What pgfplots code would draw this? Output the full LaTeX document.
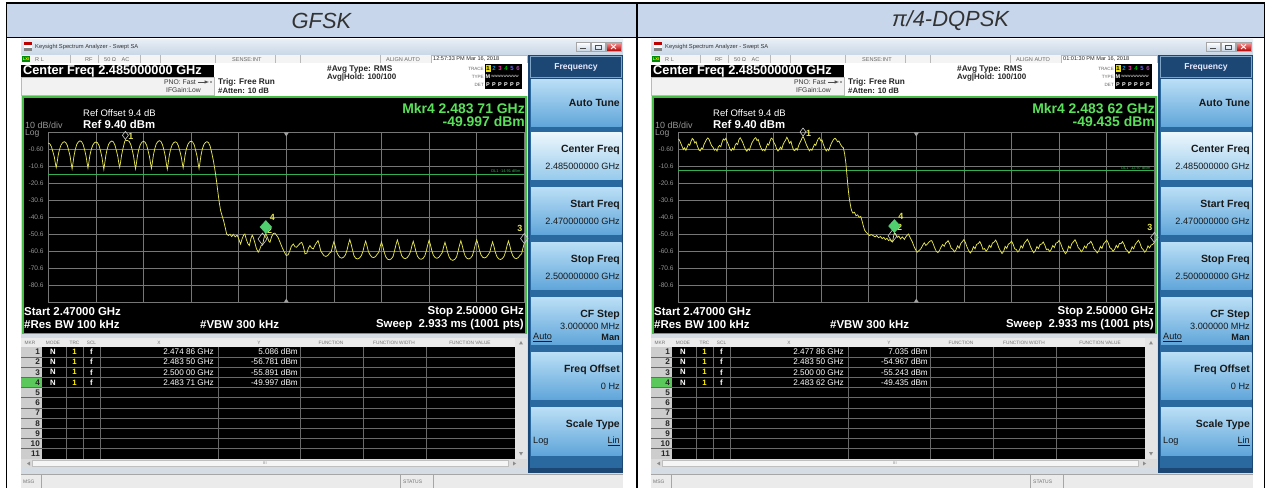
\documentclass[border=0pt]{standalone}
\usepackage{fontspec}
\setmainfont{Liberation Sans}
\usepackage{pgfplots}
\pgfplotsset{compat=1.18}
\usepackage{pgfplotstable}

\definecolor{titlebg}{RGB}{199,214,235}
\definecolor{tracey}{RGB}{228,228,80}
\definecolor{gridg}{RGB}{118,118,118}
\definecolor{dispg}{RGB}{70,190,70}
\definecolor{mkrg}{RGB}{90,225,90}
\definecolor{dlg}{RGB}{50,175,80}
\definecolor{tickg}{RGB}{150,150,150}
\definecolor{sbnavy}{RGB}{28,70,115}
\definecolor{sbband}{RGB}{42,104,160}
\definecolor{btop}{RGB}{185,222,245}
\definecolor{bbot}{RGB}{95,165,218}
\definecolor{btopL}{RGB}{236,246,252}
\definecolor{bbotL}{RGB}{150,202,236}
\definecolor{mkgray}{RGB}{205,205,205}
\definecolor{mkfour}{RGB}{80,205,110}
\definecolor{tbarA}{RGB}{230,237,245}
\definecolor{tbarB}{RGB}{200,214,230}
\definecolor{statbg}{RGB}{244,244,244}
\definecolor{sepg}{RGB}{185,185,185}
\definecolor{panelg}{RGB}{214,220,228}
\definecolor{hdrbg}{RGB}{236,236,236}
\definecolor{mkrcol}{RGB}{205,205,205}
\definecolor{tblline}{RGB}{105,105,105}
\definecolor{hilite}{RGB}{90,200,90}

\newcommand\fs[1]{\fontsize{#1}{#1}\selectfont}

\pgfplotstableread{
f p
2470.00 3.2
2470.10 2.7
2470.20 1.0
2470.30 -2.3
2470.38 -5.0
2470.45 -9.0
2470.50 -11.2
2470.55 -8.6
2470.62 -4.2
2470.70 -0.8
2470.80 2.0
2470.90 3.4
2471.00 4.0
2471.10 3.5
2471.20 1.8
2471.30 -1.6
2471.38 -4.8
2471.45 -9.3
2471.50 -12.0
2471.55 -9.0
2471.62 -4.4
2471.70 -0.6
2471.80 2.5
2471.90 3.9
2472.00 4.5
2472.10 4.0
2472.20 2.2
2472.30 -1.2
2472.38 -4.6
2472.45 -8.8
2472.50 -11.5
2472.55 -8.7
2472.62 -4.1
2472.70 -0.9
2472.80 1.9
2472.90 3.3
2473.00 3.8
2473.10 3.4
2473.20 1.7
2473.30 -1.8
2473.38 -5.1
2473.45 -9.5
2473.50 -12.3
2473.55 -9.2
2473.62 -4.5
2473.70 -0.7
2473.80 2.4
2473.90 3.8
2474.00 4.4
2474.10 3.9
2474.20 2.0
2474.30 -1.5
2474.38 -4.7
2474.45 -8.9
2474.50 -11.0
2474.55 -8.4
2474.62 -3.9
2474.70 -0.3
2474.80 3.6
2474.86 5.086
2474.93 4.6
2475.00 4.7
2475.10 4.1
2475.20 2.3
2475.30 -1.3
2475.38 -4.9
2475.45 -9.4
2475.50 -12.0
2475.55 -9.0
2475.62 -4.3
2475.70 -0.6
2475.80 2.3
2475.90 3.7
2476.00 4.2
2476.10 3.7
2476.20 1.9
2476.30 -1.7
2476.38 -5.0
2476.45 -9.1
2476.50 -11.6
2476.55 -8.8
2476.62 -4.2
2476.70 -0.5
2476.80 2.6
2476.90 4.0
2477.00 4.6
2477.10 4.1
2477.20 2.1
2477.30 -1.4
2477.38 -4.9
2477.45 -9.6
2477.50 -12.2
2477.55 -9.1
2477.62 -4.4
2477.70 -0.8
2477.80 2.0
2477.90 3.4
2478.00 3.9
2478.10 3.5
2478.20 1.6
2478.30 -1.9
2478.38 -5.0
2478.45 -9.0
2478.50 -11.4
2478.55 -8.6
2478.62 -4.0
2478.70 -0.4
2478.80 2.4
2478.90 3.8
2479.00 4.3
2479.10 3.8
2479.20 2.0
2479.30 -1.6
2479.38 -4.8
2479.45 -9.2
2479.50 -11.8
2479.55 -8.9
2479.62 -4.2
2479.70 -0.6
2479.80 2.2
2479.90 3.5
2480.00 4.0
2480.10 3.4
2480.20 1.4
2480.30 -2.5
2480.40 -7.0
2480.50 -12.5
2480.60 -19.0
2480.70 -26.5
2480.78 -32.0
2480.86 -36.5
2480.95 -39.5
2481.05 -42.5
2481.15 -46.5
2481.24 -50.3
2481.35 -51.2
2481.45 -50.4
2481.56 -51.8
2481.66 -50.5
2481.78 -52.0
2481.90 -51.0
2481.97 -52.3
2482.05 -54.5
2482.12 -56.2
2482.22 -53.0
2482.32 -50.8
2482.39 -50.3
2482.48 -53.5
2482.58 -56.0
2482.67 -57.1
2482.77 -53.0
2482.85 -51.0
2482.92 -52.3
2483.02 -55.5
2483.12 -59.0
2483.23 -61.0
2483.32 -59.5
2483.42 -57.0
2483.50 -56.781
2483.60 -52.5
2483.71 -49.997
2483.80 -52.0
2483.90 -54.5
2483.97 -55.2
2484.07 -52.0
2484.18 -50.0
2484.28 -49.8
2484.38 -51.0
2484.48 -52.3
2484.60 -55.0
2484.75 -58.5
2484.88 -61.0
2485.00 -63.0
2485.12 -62.5
2485.23 -60.0
2485.32 -57.5
2485.44 -56.2
2485.55 -57.8
2485.65 -58.1
2485.75 -57.0
2485.87 -55.8
2485.97 -55.2
2486.07 -57.5
2486.18 -62.0
2486.30 -61.5
2486.40 -58.5
2486.49 -57.1
2486.60 -58.6
2486.70 -59.1
2486.80 -57.0
2486.90 -55.5
2487.00 -54.2
2487.08 -56.7
2487.17 -60.2
2487.27 -61.7
2487.38 -63.1
2487.50 -63.5
2487.62 -62.9
2487.73 -61.5
2487.83 -60.8
2487.92 -57.3
2488.00 -54.8
2488.08 -57.3
2488.17 -60.8
2488.27 -62.7
2488.38 -64.1
2488.50 -64.5
2488.62 -63.9
2488.73 -62.5
2488.83 -59.6
2488.92 -56.1
2489.00 -53.6
2489.08 -56.1
2489.17 -59.6
2489.27 -63.2
2489.38 -64.6
2489.50 -65.0
2489.62 -64.4
2489.73 -63.0
2489.83 -60.5
2489.92 -57.0
2490.00 -54.5
2490.08 -57.0
2490.17 -60.5
2490.27 -62.4
2490.38 -63.8
2490.50 -64.2
2490.62 -63.6
2490.73 -62.2
2490.83 -61.0
2490.92 -57.5
2491.00 -55.0
2491.08 -57.5
2491.17 -61.0
2491.27 -63.7
2491.38 -65.1
2491.50 -65.5
2491.62 -64.9
2491.73 -63.5
2491.83 -59.8
2491.92 -56.3
2492.00 -53.8
2492.08 -56.3
2492.17 -59.8
2492.27 -63.0
2492.38 -64.4
2492.50 -64.8
2492.62 -64.2
2492.73 -62.8
2492.83 -60.6
2492.92 -57.1
2493.00 -54.6
2493.08 -57.1
2493.17 -60.6
2493.27 -63.4
2493.38 -64.8
2493.50 -65.2
2493.62 -64.6
2493.73 -63.2
2493.83 -60.0
2493.92 -56.5
2494.00 -54.0
2494.08 -56.5
2494.17 -60.0
2494.27 -62.8
2494.38 -64.2
2494.50 -64.6
2494.62 -64.0
2494.73 -62.6
2494.83 -61.2
2494.92 -57.7
2495.00 -55.2
2495.08 -57.7
2495.17 -61.2
2495.27 -64.0
2495.38 -65.4
2495.50 -65.8
2495.62 -65.2
2495.73 -63.8
2495.83 -60.3
2495.92 -56.8
2496.00 -54.3
2496.08 -56.8
2496.17 -60.3
2496.27 -63.2
2496.38 -64.6
2496.50 -65.0
2496.62 -64.4
2496.73 -63.0
2496.83 -59.7
2496.92 -56.2
2497.00 -53.7
2497.08 -56.2
2497.17 -59.7
2497.27 -62.6
2497.38 -64.0
2497.50 -64.4
2497.62 -63.8
2497.73 -62.4
2497.83 -60.9
2497.92 -57.4
2498.00 -54.9
2498.08 -57.4
2498.17 -60.9
2498.27 -63.5
2498.38 -64.9
2498.50 -65.3
2498.62 -64.7
2498.73 -63.3
2498.83 -60.4
2498.92 -56.9
2499.00 -54.4
2499.08 -56.9
2499.17 -60.4
2499.27 -63.0
2499.38 -64.4
2499.50 -64.8
2499.62 -64.2
2499.73 -62.8
2499.83 -61.9
2499.92 -58.4
2500.00 -55.891
}\gfskdata

\pgfplotstableread{
f p
2470.00 5.6
2470.08 4.8
2470.16 3.0
2470.24 1.2
2470.32 -0.6
2470.40 0.4
2470.48 -1.1
2470.56 0.8
2470.64 2.6
2470.72 1.9
2470.80 4.2
2470.88 5.9
2470.96 5.1
2471.04 3.2
2471.12 4.0
2471.20 1.5
2471.30 -0.9
2471.38 -1.4
2471.46 0.3
2471.54 -0.2
2471.62 2.4
2471.70 3.9
2471.78 5.4
2471.86 6.2
2471.94 5.3
2472.02 3.4
2472.10 1.6
2472.20 0.5
2472.28 -1.0
2472.36 -0.3
2472.44 -1.5
2472.52 0.9
2472.60 1.8
2472.68 1.1
2472.76 3.8
2472.84 5.6
2472.92 4.9
2473.00 6.0
2473.08 3.9
2473.16 2.2
2473.26 -0.4
2473.34 -1.3
2473.42 0.1
2473.50 -0.8
2473.58 1.9
2473.66 3.1
2473.74 2.4
2473.82 5.2
2473.90 6.3
2473.98 5.0
2474.06 3.5
2474.16 1.0
2474.24 -0.7
2474.32 -1.6
2474.40 -0.2
2474.48 -1.0
2474.56 1.3
2474.64 3.3
2474.72 4.6
2474.80 5.8
2474.88 6.4
2474.96 4.7
2475.04 5.3
2475.12 2.6
2475.22 0.2
2475.30 -1.2
2475.38 -0.5
2475.46 -1.4
2475.54 0.6
2475.62 2.7
2475.70 2.0
2475.78 4.4
2475.86 6.1
2475.94 5.5
2476.02 3.6
2476.12 1.9
2476.20 -0.3
2476.28 -1.5
2476.36 -0.6
2476.44 0.8
2476.52 -0.4
2476.60 2.2
2476.68 3.8
2476.76 4.9
2476.84 6.6
2476.92 5.2
2477.00 3.1
2477.10 4.2
2477.18 1.3
2477.26 -0.8
2477.34 -1.3
2477.42 0.0
2477.50 -0.9
2477.58 1.6
2477.66 3.4
2477.74 4.8
2477.80 6.2
2477.86 7.035
2477.92 5.9
2478.00 4.1
2478.08 2.0
2478.18 0.1
2478.26 -1.4
2478.34 -0.4
2478.42 -1.1
2478.50 0.7
2478.58 2.5
2478.66 1.8
2478.74 4.0
2478.82 5.7
2478.90 6.3
2478.98 4.5
2479.06 5.0
2479.14 2.4
2479.24 0.0
2479.32 -1.5
2479.40 -0.3
2479.48 -1.2
2479.56 0.9
2479.64 2.9
2479.72 4.3
2479.80 5.5
2479.88 6.0
2479.96 5.2
2480.04 3.9
2480.12 4.4
2480.20 2.8
2480.30 1.2
2480.40 0.4
2480.48 -3.0
2480.56 -8.5
2480.64 -17.0
2480.71 -24.1
2480.77 -29.0
2480.82 -31.8
2480.88 -35.0
2480.93 -36.7
2481.00 -38.0
2481.10 -37.5
2481.20 -39.6
2481.30 -39.0
2481.40 -40.5
2481.50 -40.0
2481.58 -42.6
2481.66 -45.5
2481.74 -48.0
2481.84 -49.3
2481.95 -50.3
2482.05 -51.3
2482.15 -50.6
2482.29 -51.3
2482.40 -52.0
2482.50 -51.2
2482.62 -52.5
2482.74 -51.8
2482.85 -53.0
2482.95 -52.3
2483.05 -53.6
2483.15 -52.8
2483.25 -54.2
2483.35 -53.5
2483.42 -54.6
2483.50 -54.967
2483.56 -52.0
2483.62 -49.435
2483.70 -50.8
2483.80 -52.3
2483.90 -51.5
2484.00 -53.2
2484.12 -52.0
2484.25 -53.5
2484.35 -51.8
2484.50 -50.3
2484.62 -52.5
2484.75 -55.0
2484.85 -57.5
2484.95 -59.5
2485.05 -61.0
2485.15 -60.2
2485.28 -59.1
2485.40 -57.0
2485.50 -55.5
2485.60 -57.0
2485.70 -56.2
2485.80 -55.0
2485.90 -54.3
2485.97 -54.2
2486.06 -56.0
2486.16 -58.5
2486.26 -60.5
2486.36 -61.2
2486.46 -60.0
2486.56 -58.0
2486.66 -56.5
2486.76 -57.5
2486.86 -55.5
2486.96 -54.8
2487.00 -54.2
2487.10 -56.0
2487.20 -58.7
2487.30 -59.3
2487.40 -60.8
2487.50 -59.6
2487.60 -57.3
2487.70 -58.6
2487.80 -55.9
2487.90 -54.8
2488.00 -53.6
2488.10 -55.4
2488.20 -58.1
2488.30 -60.0
2488.40 -61.5
2488.50 -60.3
2488.60 -57.8
2488.70 -59.0
2488.80 -56.4
2488.90 -56.0
2489.00 -54.8
2489.10 -56.6
2489.20 -59.3
2489.30 -58.9
2489.40 -60.4
2489.50 -59.2
2489.60 -57.0
2489.70 -58.2
2489.80 -55.6
2489.90 -55.1
2490.00 -53.9
2490.10 -55.7
2490.20 -58.4
2490.30 -60.3
2490.40 -61.8
2490.50 -60.6
2490.60 -57.6
2490.70 -58.8
2490.80 -56.3
2490.90 -55.7
2491.00 -54.5
2491.10 -56.3
2491.20 -59.0
2491.30 -59.4
2491.40 -60.9
2491.50 -59.7
2491.60 -57.2
2491.70 -58.5
2491.80 -55.8
2491.90 -54.6
2492.00 -53.4
2492.10 -55.2
2492.20 -57.9
2492.30 -59.8
2492.40 -61.3
2492.50 -60.1
2492.60 -57.7
2492.70 -58.9
2492.80 -56.5
2492.90 -56.2
2493.00 -55.0
2493.10 -56.8
2493.20 -59.5
2493.30 -59.1
2493.40 -60.6
2493.50 -59.4
2493.60 -57.1
2493.70 -58.3
2493.80 -55.7
2493.90 -55.3
2494.00 -54.1
2494.10 -55.9
2494.20 -58.6
2494.30 -60.4
2494.40 -61.9
2494.50 -60.7
2494.60 -57.5
2494.70 -58.7
2494.80 -56.0
2494.90 -54.9
2495.00 -53.7
2495.10 -55.5
2495.20 -58.2
2495.30 -59.2
2495.40 -60.7
2495.50 -59.5
2495.60 -57.4
2495.70 -58.6
2495.80 -56.2
2495.90 -55.8
2496.00 -54.6
2496.10 -56.4
2496.20 -59.1
2496.30 -59.9
2496.40 -61.4
2496.50 -60.2
2496.60 -57.6
2496.70 -58.8
2496.80 -56.1
2496.90 -55.1
2497.00 -53.9
2497.10 -55.7
2497.20 -58.4
2497.30 -59.0
2497.40 -60.5
2497.50 -59.3
2497.60 -57.0
2497.70 -58.4
2497.80 -55.9
2497.90 -56.0
2498.00 -54.8
2498.10 -56.6
2498.20 -59.3
2498.30 -60.1
2498.40 -61.6
2498.50 -60.4
2498.60 -57.8
2498.70 -59.0
2498.80 -56.4
2498.90 -55.2
2499.00 -54.0
2499.10 -55.8
2499.20 -58.5
2499.30 -59.5
2499.40 -61.0
2499.50 -59.8
2499.60 -57.3
2499.70 -58.5
2499.80 -56.8
2499.90 -56.4
2500.00 -55.243
}\dqpskdata

\newcommand\btitle[2]{\node[anchor=east,inner sep=0,font=\fs{10.5}\bfseries,text=black!90] at (620,#1) {#2};}
\newcommand\bval[2]{\node[anchor=east,inner sep=0,font=\fs{9.2},text=black!90] at (620,#1) {#2};}

\newcommand\drawpanel[1]{%
\begin{scope}[xshift=\ox bp]
 % window frame + title bar
 \fill[panelg] (21,40) rectangle (623,488);
 \shade[top color=tbarA,bottom color=tbarB] (21,40) rectangle (623,55);
 \fill[red!75!black] (24,42) rectangle (32,45);
 \fill[white] (24,45) rectangle (32,48);
 \fill[gray] (24,48) rectangle (32,51.5);
 \node[anchor=west,inner sep=0,font=\fs{5.8},text=black!80] at (35,47.5) {Keysight Spectrum Analyzer - Swept SA};
 \shade[top color=white,bottom color=tbarB,draw=gray!70] (576,42.5) rectangle (590,51);
 \shade[top color=white,bottom color=tbarB,draw=gray!70] (591,42.5) rectangle (605,51);
 \shade[top color=red!40,bottom color=red!70!black,draw=gray!70] (606,42.5) rectangle (621,51);
 \draw[gray!60!black,line width=0.8bp] (580,48.5)--(586,48.5);
 \draw[gray!60!black,line width=0.5bp] (595,45) rectangle (601,49);
 \draw[white,line width=0.9bp] (611,44.5)--(616,49) (611,49)--(616,44.5);
 % status row
 \fill[statbg] (21,55) rectangle (528,63.5);
 \foreach \sx in {70,98,140,160,215,275,300,380}{\draw[sepg,line width=0.5bp] (\sx,55.5)--(\sx,63);}
 \fill[green!55!black] (22,56) rectangle (30,62.5);
 \node[font=\fs{4}\bfseries,text=yellow,inner sep=0] at (26,59.3) {LXI};
 \node[anchor=west,inner sep=0,font=\fs{5.6},text=black!60] at (35,59.3) {R L};
 \node[anchor=west,inner sep=0,font=\fs{5.6},text=black!60] at (85,59.3) {RF};
 \node[anchor=west,inner sep=0,font=\fs{5.6},text=black!60] at (104,59.3) {50 Ω\quad AC};
 \node[anchor=west,inner sep=0,font=\fs{5.6},text=black!60] at (232,59.3) {SENSE:INT};
 \node[anchor=west,inner sep=0,font=\fs{5.6},text=black!60] at (386,59.3) {ALIGN AUTO};
 \fill[white,draw=sepg,line width=0.5bp] (431,55.5) rectangle (527,63);
 \node[anchor=west,inner sep=0,font=\fs{5.6},text=black!85] at (433,59.3) {\tstamp};
 % settings area
 \fill[white] (21,63.5) rectangle (528,96);
 \fill[black] (21,65) rectangle (214,77.5);
 \node[anchor=west,inner sep=0,font=\fs{12.8}\bfseries,text=white] at (23,71.5) {Center Freq 2.485000000 GHz};
 \fill[black!5,draw=sepg,line width=0.5bp] (21,77.5) rectangle (214,95.5);
 \node[anchor=west,inner sep=0,font=\fs{6.8},text=black!80] at (164,82) {PNO: Fast};
 \draw[black!70,line width=0.5bp,-latex] (198,82)--(209,82);
 \fill[black!70] (211,82) circle (0.9);
 \node[anchor=west,inner sep=0,font=\fs{6.8},text=black!80] at (166,89.8) {IFGain:Low};
 \node[anchor=west,inner sep=0,font=\fs{8.3}\bfseries,text=black!85] at (218,82.5) {Trig: Free Run};
 \node[anchor=west,inner sep=0,font=\fs{7.8}\bfseries,text=black!85] at (218,90.5) {\#Atten: 10 dB};
 \node[anchor=west,inner sep=0,font=\fs{8.3}\bfseries,text=black!85] at (327,69.5) {\#Avg Type: RMS};
 \node[anchor=west,inner sep=0,font=\fs{8}\bfseries,text=black!85] at (327,78) {Avg|Hold: 100/100};
 \node[anchor=east,inner sep=0,font=\fs{4.6},text=black!60] at (484,68.5) {TRACE};
 \node[anchor=east,inner sep=0,font=\fs{4.6},text=black!60] at (484,76.5) {TYPE};
 \node[anchor=east,inner sep=0,font=\fs{4.6},text=black!60] at (484,85) {DET};
 \fill[black] (485,64.5) rectangle (521.5,89);
 \fill[yellow!90!black] (485.5,65) rectangle (490.5,72.5);
 \node[font=\fs{6}\bfseries,text=black,inner sep=0] at (488,68.8) {1};
 \node[font=\fs{6}\bfseries,text=cyan!80!blue,inner sep=0] at (494,68.8) {2};
 \node[font=\fs{6}\bfseries,text=magenta!80,inner sep=0] at (500,68.8) {3};
 \node[font=\fs{6}\bfseries,text=green!70!black,inner sep=0] at (506,68.8) {4};
 \node[font=\fs{6}\bfseries,text=blue!60!white,inner sep=0] at (512,68.8) {5};
 \node[font=\fs{6}\bfseries,text=violet!70!white,inner sep=0] at (518,68.8) {6};
 \node[font=\fs{5.5}\bfseries,text=white,inner sep=0] at (488,76.8) {M};
 \node[font=\fs{3.2},text=white!70,inner sep=0] at (505,76.8) {WWWWWWWWW};
 \foreach \px in {488,494,500,506,512,518}{\node[font=\fs{5.5}\bfseries,text=white,inner sep=0] at (\px,85) {P};}
 % sidebar
 \fill[sbnavy] (528,55) rectangle (623,473);
 \fill[sbband] (530,79) rectangle (622,468);
 \draw[sbband!60!white,line width=0.6bp] (530.5,56.5) rectangle (621.5,77.5);
 \node[font=\fs{8.6}\bfseries,text=blue!8!white,inner sep=0] at (576,67) {Frequency};
 \foreach \bt in {80,188,243,298,353,408}{\shade[top color=btop,bottom color=bbot] (531,\bt) rectangle (621.5,{\bt+47});}
 \shade[top color=btopL,bottom color=bbotL] (531,133) rectangle (621.5,180);
 \btitle{103}{Auto Tune}
 \btitle{150}{Center Freq}
 \bval{166.5}{2.485000000 GHz}
 \btitle{205}{Start Freq}
 \bval{221.5}{2.470000000 GHz}
 \btitle{260}{Stop Freq}
 \bval{276.5}{2.500000000 GHz}
 \btitle{315}{CF Step}
 \bval{326.5}{3.000000 MHz}
 \node[anchor=west,inner sep=0,font=\fs{9.2},text=black!90] at (533,337.5) {\underline{Auto}};
 \node[anchor=east,inner sep=0,font=\fs{9.2}\bfseries,text=black!90] at (620,337.5) {Man};
 \btitle{370}{Freq Offset}
 \bval{386.5}{0 Hz}
 \btitle{425}{Scale Type}
 \node[anchor=west,inner sep=0,font=\fs{9.2},text=black!90] at (533,441.5) {Log};
 \node[anchor=east,inner sep=0,font=\fs{9.2},text=black!90] at (620,441.5) {\underline{Lin}};
 % display
 \fill[black] (22.7,97) rectangle (526,333.5);
 \draw[dispg,line width=1.6bp] (22.7,97) rectangle (526,333.5);
 \node[anchor=west,inner sep=0,font=\fs{9.5},text=white] at (83,113.5) {Ref Offset 9.4 dB};
 \node[anchor=west,inner sep=0,font=\fs{9},text=tickg] at (25,124.8) {10 dB/div};
 \node[anchor=west,inner sep=0,font=\fs{11.4}\bfseries,text=white] at (83,124.5) {Ref 9.40 dBm};
 \node[anchor=west,inner sep=0,font=\fs{8.6},text=tickg] at (25,133.5) {Log};
 \node[anchor=east,inner sep=0,font=\fs{14}\bfseries,text=mkrg] at (525,108.5) {Mkr4 \mkrf};
 \node[anchor=east,inner sep=0,font=\fs{14}\bfseries,text=mkrg] at (525,121.5) {\mkrv};
 \node[anchor=west,inner sep=0,font=\fs{11.5}\bfseries,text=white] at (24,312) {Start 2.47000 GHz};
 \node[anchor=east,inner sep=0,font=\fs{11.5}\bfseries,text=white] at (524,312) {Stop 2.50000 GHz};
 \node[anchor=west,inner sep=0,font=\fs{11.5}\bfseries,text=white] at (24,324.3) {\#Res BW 100 kHz};
 \node[anchor=west,inner sep=0,font=\fs{11.5}\bfseries,text=white] at (200,324.3) {\#VBW 300 kHz};
 \node[anchor=east,inner sep=0,font=\fs{11.5}\bfseries,text=white] at (524,324.3) {Sweep\ \ 2.933 ms (1001 pts)};
 % marker table
 \fill[panelg] (21,334.5) rectangle (528,473);
 \fill[hdrbg] (21,338) rectangle (515,346.6);
 \foreach \hx/\hlab in {30/MKR,53/MODE,74.5/TRC,91.5/SCL,159/X,259/Y,331/FUNCTION,394/FUNCTION WIDTH,470/FUNCTION VALUE}{\node[font=\fs{4.8},text=black!55,inner sep=0] at (\hx,342.5) {\hlab};}
 \fill[black] (42,346.6) rectangle (515,458.8);
 \fill[mkrcol] (21,346.6) rectangle (42,458.8);
 \fill[hilite] (21,377.2) rectangle (42,387.4);
 \foreach \rr in {1,...,10}{\draw[tblline,line width=0.5bp] (21,{346.6+10.2*\rr}) -- (515,{346.6+10.2*\rr});}
 \foreach \cx in {66,83,100,218,300,363,426}{\draw[tblline,line width=0.5bp] (\cx,346.6)--(\cx,458.8);}
 \foreach \rr in {1,...,11}{\node[anchor=east,inner sep=0,font=\fs{8.2}\bfseries,text=black!85] at (40,{351.8+10.2*(\rr-1)}) {\rr};}
 \foreach \rr in {1,...,4}{%
   \node[font=\fs{7.8}\bfseries,text=white,inner sep=0] at (53,{351.8+10.2*(\rr-1)}) {N};
   \node[font=\fs{7.8}\bfseries,text=yellow,inner sep=0] at (74.5,{351.8+10.2*(\rr-1)}) {1};
   \node[font=\fs{7.8}\bfseries,text=white,inner sep=0] at (91.5,{351.8+10.2*(\rr-1)}) {f};}
 \node[anchor=east,inner sep=0,font=\fs{8.2},text=white] at (214,351.8) {\tXa};
 \node[anchor=east,inner sep=0,font=\fs{8.2},text=white] at (214,362) {\tXb};
 \node[anchor=east,inner sep=0,font=\fs{8.2},text=white] at (214,372.2) {\tXc};
 \node[anchor=east,inner sep=0,font=\fs{8.2},text=white] at (214,382.4) {\tXd};
 \node[anchor=east,inner sep=0,font=\fs{8.2},text=white] at (298,351.8) {\tYa};
 \node[anchor=east,inner sep=0,font=\fs{8.2},text=white] at (298,362) {\tYb};
 \node[anchor=east,inner sep=0,font=\fs{8.2},text=white] at (298,372.2) {\tYc};
 \node[anchor=east,inner sep=0,font=\fs{8.2},text=white] at (298,382.4) {\tYd};
 \fill[black!10] (515,338) rectangle (527,458.8);
 \fill[black!45] (519,344.5) -- (523,344.5) -- (521,341) -- cycle;
 \fill[black!45] (519,452) -- (523,452) -- (521,455.5) -- cycle;
 \fill[black!14] (21,459) rectangle (527,468);
 \fill[black!4,draw=black!25,line width=0.4bp] (32,460.5) rectangle (508,466.5);
 \node[font=\fs{4},text=black!50,inner sep=0] at (265,463.5) {III};
 \fill[black!45] (27,463.5) -- (30,461.5) -- (30,465.5) -- cycle;
 \fill[black!45] (516,463.5) -- (513,461.5) -- (513,465.5) -- cycle;
 % msg bar
 \fill[black!8] (21,474) rectangle (623,488);
 \draw[black!35,line width=0.5bp] (21,474)--(623,474) (41,474)--(41,488) (400,474)--(400,488) (433,474)--(433,488);
 \node[anchor=west,inner sep=0,font=\fs{5},text=black!55] at (23,481.5) {MSG};
 \node[anchor=west,inner sep=0,font=\fs{5},text=black!55] at (403,481.5) {STATUS};
\end{scope}
\begin{axis}[at={(\ox bp+48.3bp,-132.5bp)},anchor=north west,
  scale only axis,width=476bp,height=170bp,
  xmin=2470,xmax=2500,ymin=-90.6,ymax=9.4,
  xtick={2470,2473,...,2500},xticklabels={},
  ytick={-90.6,-80.6,-70.6,-60.6,-50.6,-40.6,-30.6,-20.6,-10.6,-0.6,9.4},
  yticklabels={,-80.6,-70.6,-60.6,-50.6,-40.6,-30.6,-20.6,-10.6,-0.60,},
  grid=major,grid style={draw=gridg,line width=0.5bp},
  axis line style={draw=gridg,line width=0.6bp},
  major tick length=0pt,
  yticklabel style={font=\fs{6.6},text=tickg,inner sep=0pt,xshift=-4.5bp},
  clip=false]
 \addplot[dlg,line width=0.6bp] coordinates {(2470,\dlval) (2500,\dlval)};
 \node[anchor=south east,font=\fs{4},text=dlg,inner sep=0.6bp] at (axis cs:2499.8,\dlval) {\dltext};
 \fill[gridg!70!white] (axis cs:2485,9.4) ++(-2.5bp,0bp) -- ++(5bp,0bp) -- ++(-2.5bp,-4bp) -- cycle;
 \fill[gridg!70!white] (axis cs:2485,-90.6) ++(-2.5bp,0bp) -- ++(5bp,0bp) -- ++(-2.5bp,4bp) -- cycle;
 \addplot[tracey,line width=0.75bp] table[x=f,y=p] {#1};
 \addplot[only marks,mark=diamond,mark size=4bp,mark options={draw=mkgray,fill=none,line width=0.6bp,yshift=4.5bp}] coordinates {(\mAx,\mAy)};
 \addplot[only marks,mark=diamond,mark size=6bp,mark options={draw=mkgray,fill=none,line width=0.6bp,yshift=6bp}] coordinates {(\mBx,\mBy)};
 \addplot[only marks,mark=diamond,mark size=5bp,mark options={draw=mkgray,fill=none,line width=0.6bp,yshift=5bp}] coordinates {(\mCx,\mCy)};
 \addplot[only marks,mark=diamond*,mark size=6.5bp,mark options={draw=mkfour,fill=mkfour,xscale=1.2,yshift=6.5bp}] coordinates {(\mDx,\mDy)};
 \node[font=\fs{9}\bfseries,text=tracey,inner sep=0,xshift=5.5bp,yshift=3bp] at (axis cs:\mAx,\mAy) {1};
 \node[font=\fs{9}\bfseries,text=tracey,inner sep=0,xshift=7bp,yshift=15bp] at (axis cs:\mBx,\mBy) {2};
 \node[font=\fs{9}\bfseries,text=tracey,inner sep=0,xshift=-4.5bp,yshift=15bp] at (axis cs:\mCx,\mCy) {3};
 \node[font=\fs{9}\bfseries,text=tracey,inner sep=0,xshift=6.5bp,yshift=16.5bp] at (axis cs:\mDx,\mDy) {4};
\end{axis}
}

\begin{document}
\begin{tikzpicture}[x=1bp,y=-1bp]
\path[use as bounding box] (0,0) rectangle (1267,488);
\fill[white] (0,0) rectangle (1267,488);
\fill[titlebg] (6.5,3) rectangle (1264.5,37.5);
\node[font=\fs{22}\itshape,text=black!80] at (321.5,21) {GFSK};
\node[font=\fs{22}\itshape,text=black!80] at (950.5,21) {π/4-DQPSK};

% ---------- GFSK panel
\def\ox{0}
\def\tstamp{12:57:33 PM Mar 16, 2018}
\def\mkrf{2.483 71 GHz}
\def\mkrv{-49.997 dBm}
\def\dlval{-14.91}
\def\dltext{DL1 -14.91 dBm}
\def\mAx{2474.86}\def\mAy{5.086}
\def\mBx{2483.50}\def\mBy{-56.781}
\def\mCx{2500.00}\def\mCy{-55.891}
\def\mDx{2483.71}\def\mDy{-49.997}
\def\tXa{2.474 86 GHz}\def\tYa{5.086 dBm}
\def\tXb{2.483 50 GHz}\def\tYb{-56.781 dBm}
\def\tXc{2.500 00 GHz}\def\tYc{-55.891 dBm}
\def\tXd{2.483 71 GHz}\def\tYd{-49.997 dBm}
\drawpanel{\gfskdata}

% ---------- pi/4-DQPSK panel
\def\ox{630}
\def\tstamp{01:01:30 PM Mar 16, 2018}
\def\mkrf{2.483 62 GHz}
\def\mkrv{-49.435 dBm}
\def\dlval{-12.97}
\def\dltext{DL1 -12.97 dBm}
\def\mAx{2477.86}\def\mAy{7.035}
\def\mBx{2483.50}\def\mBy{-54.967}
\def\mCx{2500.00}\def\mCy{-55.243}
\def\mDx{2483.62}\def\mDy{-49.435}
\def\tXa{2.477 86 GHz}\def\tYa{7.035 dBm}
\def\tXb{2.483 50 GHz}\def\tYb{-54.967 dBm}
\def\tXc{2.500 00 GHz}\def\tYc{-55.243 dBm}
\def\tXd{2.483 62 GHz}\def\tYd{-49.435 dBm}
\drawpanel{\dqpskdata}

% ---------- table borders
\draw[black,line width=1.5bp] (5.75,3)--(1265.25,3);
\draw[black,line width=1.5bp] (6.5,37.5)--(1264.5,37.5);
\draw[black,line width=1.5bp] (6.5,3)--(6.5,488);
\draw[black,line width=1.5bp] (637,3)--(637,488);
\draw[black,line width=1.5bp] (1264.5,3)--(1264.5,488);
\end{tikzpicture}
\end{document}
